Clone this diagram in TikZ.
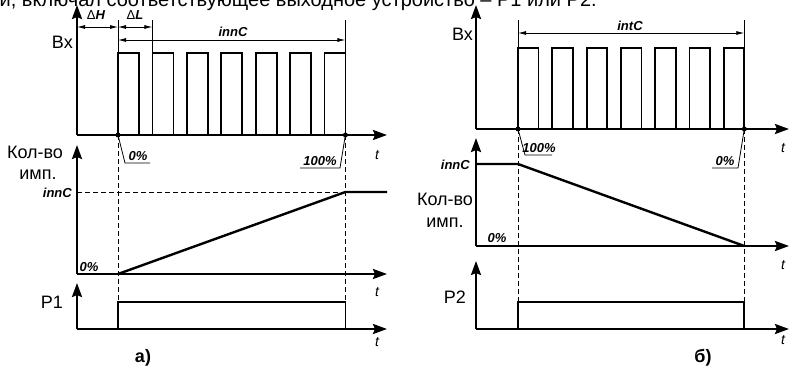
\documentclass[tikz,border=0pt]{standalone}
\usepackage{fontspec}
\setmainfont{Liberation Sans}
\usetikzlibrary{arrows.meta}
\tikzset{
  axis/.style={line width=2.4pt,-{Stealth[length=14pt,width=10pt,inset=2pt]}},
  sig/.style={line width=1.8pt},
  ramp/.style={line width=2.4pt},
  dim/.style={line width=0.8pt,{Latex[length=8pt,width=4pt]}-{Latex[length=8pt,width=4pt]}},
  ext/.style={line width=0.8pt},
  dashln/.style={line width=0.8pt,dash pattern=on 5pt off 3pt},
  lead/.style={line width=0.8pt},
  dot/.style={circle,fill=black,inner sep=0pt,minimum size=5pt},
  big/.style={font=\fontsize{18}{20}\selectfont,inner sep=0pt},
  bi/.style={font=\fontsize{13}{15}\selectfont\bfseries\itshape,inner sep=0pt},
  tl/.style={font=\fontsize{14}{16}\selectfont\itshape,inner sep=0pt},
  captxt/.style={font=\fontsize{18}{20}\selectfont\bfseries,inner sep=0pt},
}
\begin{document}
\begin{tikzpicture}[x=1pt,y=-1pt]
\useasboundingbox (0,0) rectangle (790,369);
\clip (0,0) rectangle (790,369);
\node[font=\fontsize{20}{22}\selectfont,inner sep=0pt,anchor=base east] (top) at (597,6.5) {и, включал соответствующее выходное устройство – Р1 или Р2.};

% ================= LEFT (a) =================
\coordinate (oa1) at (77,135);
\coordinate (oa2) at (77,274);
\coordinate (oa3) at (77,329);
\draw[axis] (oa1) -- (77,5);
\draw[axis] (oa1) -- (387,135);
\draw[axis] (oa2) -- (77,145);
\draw[axis] (oa2) -- (387,274);
\draw[axis] (oa3) -- (77,283);
\draw[axis] (oa3) -- (387,329);

% pulses
\foreach \k in {0,...,6}{
  \pgfmathsetmacro{\xa}{118+34.4*\k}
  \pgfmathsetmacro{\xb}{\xa+21}
  \draw[sig] (\xa,135) -- (\xa,53) -- (\xb,53) -- (\xb,135);
}
% dimensions
\coordinate (ea) at (118,53);
\coordinate (eb) at (152.4,53);
\coordinate (ec) at (345.4,53);
\draw[ext] (ea) -- (118,20);
\draw[ext] (eb) -- (152.4,20);
\draw[ext] (ec) -- (345.4,20);
\draw[dim] (77,27) -- (118,27);
\draw[dim] (118,27) -- (152.4,27);
\draw[dim] (118,40) -- (345.4,40);
\node[bi,anchor=base] (dH) at (96,20) {{\normalfont\mdseries Δ}\textbf{\textit{H}}};
\node[bi,anchor=base] (dL) at (135,20) {{\normalfont\mdseries Δ}\textbf{\textit{L}}};
\node[bi,anchor=base] (innCa) at (233,37) {innC};
\node[big,anchor=east] (Bxa) at (73,42) {Вх};

% dots and leaders
\node[dot] (da1) at (118,135) {};
\node[dot] (da2) at (345.4,135) {};
\draw[lead] (da1.center) -- (125,163) -- (150,163);
\node[bi,anchor=base] (p0a) at (138,160) {0\%};
\draw[lead] (da2.center) -- (340,168) -- (300,168);
\node[bi,anchor=base] (p100a) at (320,165) {100\%};

% dashed
\draw[dashln] (da1.center) -- (118,302);
\draw[dashln] (da2.center) -- (345.4,302);
\draw[dashln] (77,192) -- (345.4,192);

% ramp
\draw[ramp] (118,274) -- (345.4,192) -- (387,192);
\node[bi,anchor=base east] (innCla) at (72,197) {innC};
\node[bi,anchor=base] (z0a) at (89,271) {0\%};
\node[big,anchor=base] (kola) at (35,158) {Кол-во};
\node[big,anchor=base] (impa) at (38,179) {имп.};

% P1
\draw[sig] (118,329) -- (118,302) -- (345.4,302) -- (345.4,329);
\node[big,anchor=east] (P1) at (63,302) {P1};

\node[tl] (ta1) at (377,155) {t};
\node[tl] (ta2) at (377,292) {t};
\node[tl] (ta3) at (377,342) {t};
\node[captxt] (capa) at (143,358) {а)};

% ================= RIGHT (b) =================
\coordinate (ob1) at (476,129);
\coordinate (ob2) at (476,246);
\coordinate (ob3) at (476,329);
\draw[axis] (ob1) -- (476,5);
\draw[axis] (ob1) -- (789,129);
\draw[axis] (ob2) -- (476,138);
\draw[axis] (ob2) -- (789,246);
\draw[axis] (ob3) -- (476,261);
\draw[axis] (ob3) -- (789,329);

\foreach \k in {0,...,6}{
  \pgfmathsetmacro{\xa}{518+34.3*\k}
  \pgfmathsetmacro{\xb}{\xa+20.5}
  \draw[sig] (\xa,129) -- (\xa,48) -- (\xb,48) -- (\xb,129);
}
\coordinate (fa) at (518,48);
\coordinate (fb) at (744.3,48);
\draw[ext] (fa) -- (518,20);
\draw[ext] (fb) -- (744.3,20);
\draw[dim] (518,33) -- (744.3,33);
\node[bi,anchor=base] (intC) at (630,31) {intC};
\node[big,anchor=east] (Bxb) at (473,34) {Вх};

\node[dot] (db1) at (518,129) {};
\node[dot] (db2) at (744.3,129) {};
\draw[lead] (db1.center) -- (525,155) -- (552,155);
\node[bi,anchor=base] (p100b) at (539,152) {100\%};
\draw[lead] (db2.center) -- (738,168) -- (712,168);
\node[bi,anchor=base] (p0b) at (725,165) {0\%};

\draw[dashln] (db1.center) -- (518,302);
\draw[dashln] (db2.center) -- (744.3,302);

\draw[ramp] (476,164) -- (518,164) -- (744.3,246);
\node[bi,anchor=base east] (innClb) at (470,169) {innC};
\node[bi,anchor=base] (z0b) at (497,242) {0\%};
\node[big,anchor=base] (kolb) at (445,205) {Кол-во};
\node[big,anchor=base] (impb) at (445,227) {имп.};

\draw[sig] (518,329) -- (518,302) -- (744.3,302) -- (744.3,329);
\node[big,anchor=east] (P2) at (466,297) {P2};

\node[tl] (tb1) at (783,148) {t};
\node[tl] (tb2) at (783,265) {t};
\node[tl] (tb3) at (783,340) {t};
\node[captxt] (capb) at (703,358) {б)};
\end{tikzpicture}
\end{document}
